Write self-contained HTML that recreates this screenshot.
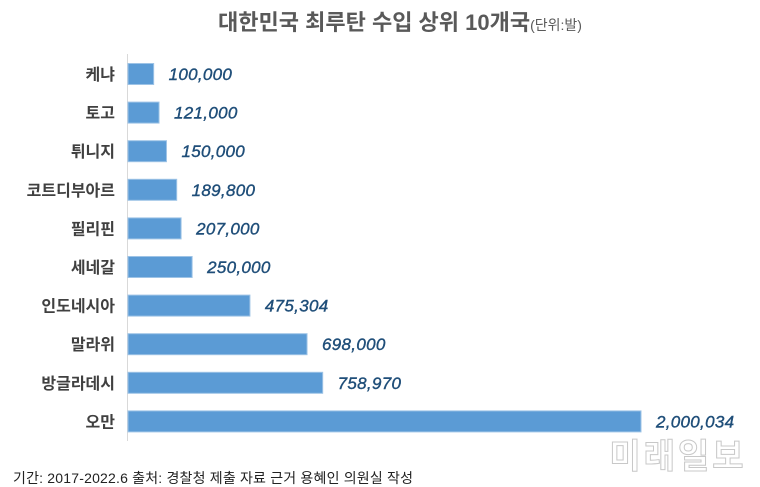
<!DOCTYPE html>
<html><head><meta charset="utf-8"><style>
html,body{margin:0;padding:0;background:#fff;}
body{width:760px;height:487px;overflow:hidden;position:relative;font-family:"Liberation Sans","Noto Sans CJK KR",sans-serif;}
</style></head><body>
<svg id="chart" width="760" height="487" xmlns="http://www.w3.org/2000/svg" style="position:absolute;left:0;top:0">
<text x="400" y="30" text-anchor="middle" font-family="Liberation Sans, Noto Sans CJK KR, sans-serif" font-size="22" font-weight="bold" fill="#595959">대한민국 최루탄 수입 상위 10개국<tspan font-size="14" font-weight="normal">(단위:발)</tspan></text>
<line x1="127.5" y1="54" x2="127.5" y2="441" stroke="#d9d9d9" stroke-width="1"/>
<g id="bars"></g>
<text x="13" y="483" font-family="Liberation Sans, Noto Sans CJK KR, sans-serif" font-size="14" fill="#222" textLength="400">기간: 2017-2022.6 출처: 경찰청 제출 자료 근거 용혜인 의원실 작성</text>
<text x="678" y="468" text-anchor="middle" font-family="Noto Sans CJK KR, sans-serif" font-size="34" font-weight="bold" fill="#fff" stroke="#c8c8c8" stroke-width="1" letter-spacing="3">미래일보</text>
</svg>
<script>
const categories=["케냐","토고","튀니지","코트디부아르","필리핀","세네갈","인도네시아","말라위","방글라데시","오만"];
const values=[100000,121000,150000,189800,207000,250000,475304,698000,758970,2000034];
const valueLabels=["100,000","121,000","150,000","189,800","207,000","250,000","475,304","698,000","758,970","2,000,034"];
const ns="http://www.w3.org/2000/svg";
const x0=128, xMax=2000034, xEnd=641;
const xs=v=>x0+(v/xMax)*(xEnd-x0);
const yc=i=>74+i*38.6;
const g=document.getElementById('bars');
categories.forEach((c,i)=>{
  const r=document.createElementNS(ns,'rect');
  
  
  r.setAttribute('x',x0);r.setAttribute('y',yc(i)-10.5);
  r.setAttribute('width',xs(values[i])-x0);r.setAttribute('height',21);
  r.setAttribute('fill','#5b9bd5');r.setAttribute('stroke','#9dc3e6');r.setAttribute('stroke-width','1');
  g.appendChild(r);
  const t=document.createElementNS(ns,'text');
  
  
  t.setAttribute('x',115);t.setAttribute('y',yc(i)+6);
  t.setAttribute('text-anchor','end');t.setAttribute('font-size','16');t.setAttribute('font-weight','bold');t.setAttribute('fill','#404040');
  t.setAttribute('font-family','Liberation Sans, Noto Sans CJK KR, sans-serif');
  t.textContent=c;g.appendChild(t);
  const v=document.createElementNS(ns,'text');
  
  
  v.setAttribute('x',xs(values[i])+15);v.setAttribute('y',yc(i)+6);
  v.setAttribute('font-size','17');v.setAttribute('font-style','italic');v.setAttribute('fill','#1f4e79');
  v.setAttribute('font-family','Liberation Sans, sans-serif');v.setAttribute('letter-spacing','0.3');
  v.setAttribute('stroke','#1f4e79');v.setAttribute('stroke-width','0.4');
  v.textContent=valueLabels[i];g.appendChild(v);
});
</script>
</body></html>
